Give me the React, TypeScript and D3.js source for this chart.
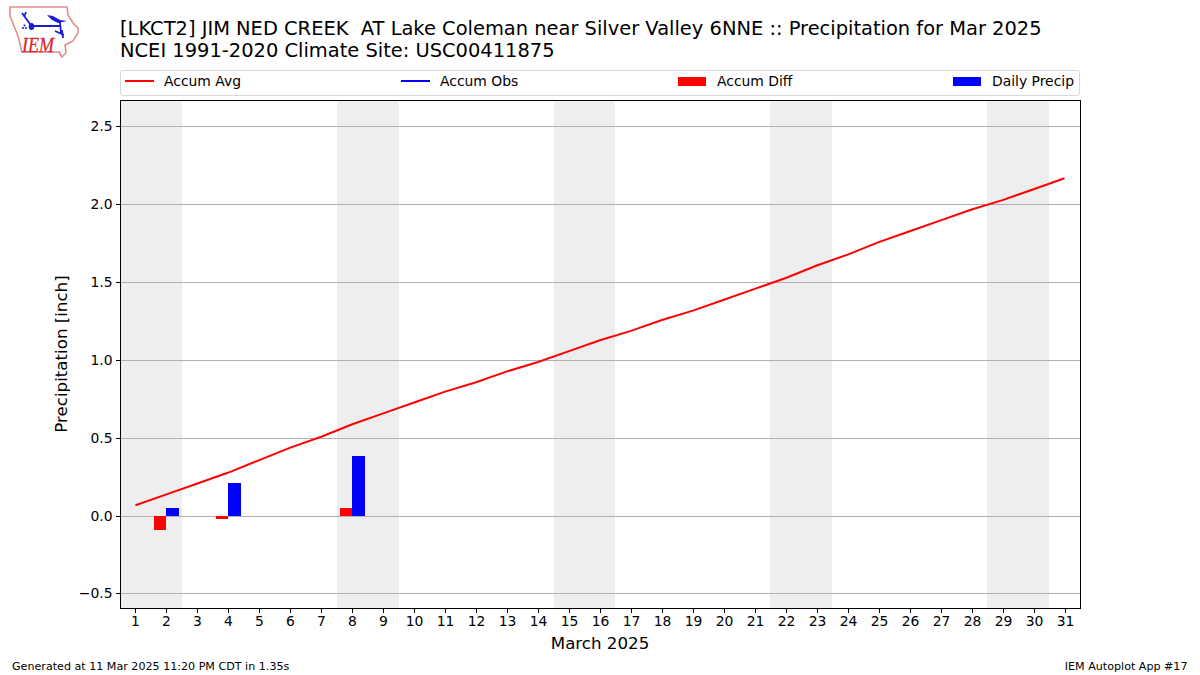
import React, { useEffect, useRef } from 'react'
import * as d3 from 'd3'

const days = d3.range(1, 32)
const accumAvg = [0.07, 0.14, 0.21, 0.28, 0.36, 0.44, 0.51, 0.59, 0.66, 0.73, 0.8, 0.86, 0.93, 0.99, 1.06, 1.13, 1.19, 1.26, 1.32, 1.39, 1.46, 1.53, 1.61, 1.68, 1.76, 1.83, 1.9, 1.97, 2.03, 2.1, 2.17]
const precipDays = [2, 4, 8]
const dailyPrecip = [0.05, 0.21, 0.385]
const accumDiff = [-0.09, -0.02, 0.05]
const weekendStarts = [1, 8, 15, 22, 29]
const yTicks = [-0.5, 0, 0.5, 1, 1.5, 2, 2.5]
const legendItems = ['Accum Avg', 'Accum Obs', 'Accum Diff', 'Daily Precip']

const FONT = '"DejaVu Sans", sans-serif'

export default function App() {
  const ref = useRef<SVGSVGElement>(null)

  useEffect(() => {
    const svg = d3.select(ref.current)
    svg.selectAll('*').remove()

    const left = 120, right = 1080, top = 100, bottom = 608
    const x = d3.scaleLinear().domain([0.5, 31.5]).range([left, right])
    const y = d3.scaleLinear().domain([-0.59, 2.673]).range([bottom, top])
    // snap hairlines to whole pixels, like the agg renderer does
    const snapY = (v: number) => Math.floor(y(v)) + 0.5
    const snapX = (v: number) => Math.round(x(v)) + 0.5

    svg.append('rect').attr('width', 1200).attr('height', 675).attr('fill', 'white')

    // weekend bands
    svg.append('g').attr('shape-rendering', 'crispEdges').selectAll('rect').data(weekendStarts).join('rect')
      .attr('x', d => x(d - 0.5))
      .attr('width', d => x(d + 1.5) - x(d - 0.5))
      .attr('y', top)
      .attr('height', bottom - top)
      .attr('fill', '#eeeeee')

    // grid
    svg.append('g').selectAll('line').data(yTicks).join('line')
      .attr('x1', left).attr('x2', right)
      .attr('y1', d => snapY(d)).attr('y2', d => snapY(d))
      .attr('stroke', '#b0b0b0').attr('stroke-width', 1)

    const barW = x(1.4) - x(1)
    const bars = precipDays.map((d, i) => ({ d, diff: accumDiff[i], precip: dailyPrecip[i] }))
    svg.append('g').attr('shape-rendering', 'crispEdges').selectAll('rect').data(bars).join('rect')
      .attr('x', b => x(b.d) - barW)
      .attr('width', barW)
      .attr('y', b => Math.min(y(0), y(b.diff)))
      .attr('height', b => Math.abs(y(b.diff) - y(0)))
      .attr('fill', '#ff0000')
    svg.append('g').attr('shape-rendering', 'crispEdges').selectAll('rect').data(bars).join('rect')
      .attr('x', b => x(b.d))
      .attr('width', barW)
      .attr('y', b => y(b.precip))
      .attr('height', b => y(0) - y(b.precip))
      .attr('fill', '#0000ff')

    const line = d3.line<number>().x((_, i) => x(days[i])).y(d => y(d))
    svg.append('path').attr('d', line(accumAvg)).attr('fill', 'none')
      .attr('stroke', '#ff0000').attr('stroke-width', 2)

    // frame and axes
    svg.append('rect').attr('x', left + 0.5).attr('y', top + 0.5).attr('width', right - left).attr('height', bottom - top)
      .attr('fill', 'none').attr('stroke', 'black').attr('stroke-width', 1)

    const xAxis = svg.append('g').attr('transform', `translate(0,${bottom + 0.5})`)
      .call(d3.axisBottom(x).tickValues(days).tickFormat(d3.format('d')).tickSize(4.5).tickPadding(3.5))
    xAxis.selectAll<SVGGElement, number>('.tick').attr('transform', d => `translate(${snapX(d)},0)`)
    const yAxis = svg.append('g').attr('transform', `translate(${left + 0.5},0)`)
      .call(d3.axisLeft(y).tickValues(yTicks).tickFormat(d => d3.format('.1f')(d as number).replace('-', '\u2212')).tickSize(4.5).tickPadding(3.5))
    yAxis.selectAll<SVGGElement, number>('.tick').attr('transform', d => `translate(0,${snapY(d)})`)
    for (const a of [xAxis, yAxis]) {
      a.select('.domain').remove()
      a.selectAll('text').attr('font-family', FONT).attr('font-size', 13.9).attr('fill', 'black')
      a.selectAll('line').attr('stroke', 'black')
    }

    const text = (t: string, tx: number, ty: number, size: number, anchor = 'start') =>
      svg.append('text').text(t).attr('x', tx).attr('y', ty)
        .attr('font-family', FONT).attr('font-size', size).attr('text-anchor', anchor).attr('fill', 'black')

    text('[LKCT2] JIM NED CREEK  AT Lake Coleman near Silver Valley 6NNE :: Precipitation for Mar 2025', 120, 35, 19.44)
      .style('white-space', 'pre')
    text('NCEI 1991-2020 Climate Site: USC00411875', 120, 57, 19.44)
    text('March 2025', 600, 649, 16.67, 'middle')
    text('Precipitation [inch]', 0, 0, 16.67, 'middle').attr('transform', 'translate(67,354) rotate(-90)')
    text('Generated at 11 Mar 2025 11:20 PM CDT in 1.35s', 12, 670, 11.11)
    text('IEM Autoplot App #17', 1187.5, 670, 11.11, 'end')

    // legend
    svg.append('rect').attr('x', 120.5).attr('y', 70.5).attr('width', 959).attr('height', 25).attr('rx', 2)
      .attr('fill', 'white').attr('stroke', '#d8d8d8').attr('stroke-width', 1)
    const swatchX = [125, 401, 678, 953]
    const labelX = [164, 440, 717, 992]
    legendItems.forEach((label, i) => {
      if (i < 2) {
        svg.append('line').attr('x1', swatchX[i]).attr('x2', swatchX[i] + 29).attr('y1', 81).attr('y2', 81)
          .attr('stroke', i === 0 ? '#ff0000' : '#0000ff').attr('stroke-width', 2)
      } else {
        svg.append('rect').attr('x', swatchX[i]).attr('y', 77).attr('width', 28).attr('height', 9)
          .attr('fill', i === 2 ? '#ff0000' : '#0000ff')
      }
      text(label, labelX[i], 86, 13.9)
    })

    // IEM logo
    const logo = svg.append('g')
    logo.append('path')
      .attr('d', 'M10,7 L67,7 L68,15 L73,23 L78,28 L78,33 L73,41 L65,45 L66,53 L62,57 L59,52 L22,52 L18,36 L10,16 Z')
      .attr('fill', 'white').attr('stroke', '#e28c8c').attr('stroke-width', 1.6)
    const blue = '#1c1cd0'
    logo.append('path').attr('d', 'M22,13 L30,24 M26,12 L24,17 M32,26 L60,26 M60,22 L61,33 M55,31 L64,35 M62,30 L63,38')
      .attr('fill', 'none').attr('stroke', blue).attr('stroke-width', 1.8)
    logo.append('path').attr('d', 'M47,15 L53,16 L60,20 L67,21 L58,23 L52,20 Z').attr('fill', blue)
    logo.append('ellipse').attr('cx', 31.5).attr('cy', 26.5).attr('rx', 2.8).attr('ry', 3.6).attr('fill', blue)
    logo.append('circle').attr('cx', 23).attr('cy', 28).attr('r', 1).attr('fill', blue)
    logo.append('circle').attr('cx', 26).attr('cy', 28).attr('r', 1).attr('fill', blue)
    logo.append('circle').attr('cx', 24.5).attr('cy', 25.5).attr('r', 1).attr('fill', blue)
    logo.append('text').text('IEM').attr('x', 22).attr('y', 52)
      .attr('font-family', '"Liberation Serif", serif').attr('font-style', 'italic')
      .attr('font-size', 22).attr('textLength', 32).attr('lengthAdjust', 'spacingAndGlyphs')
      .attr('fill', '#d8262c').attr('stroke', '#d8262c').attr('stroke-width', 0.3)
  }, [])

  return <svg ref={ref} width={1200} height={675} style={{ position: 'absolute', left: 0, top: 0 }} />
}
